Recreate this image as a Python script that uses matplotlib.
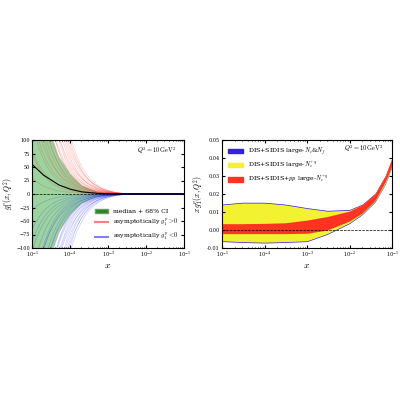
import numpy as np
import matplotlib
matplotlib.use("Agg")
import matplotlib.pyplot as plt
from matplotlib.patches import Patch
from matplotlib.lines import Line2D

plt.rcParams['mathtext.fontset'] = 'cm'
plt.rcParams['font.family'] = 'DejaVu Serif'

# Left panel: replica amplitudes (value at x=1e-4) and exponents
red_amp = [3, 6, 9, 12, 15, 18, 21, 24, 27, 30, 34, 38, 42, 46, 50, 55, 60, 66, 72, 80, 88, 96, 105, 115]
red_exp = [1.0, 1.1, 0.95, 1.05, 1.0, 1.1, 0.9, 1.0, 1.05, 0.95, 1.0, 1.1, 1.0, 0.95, 1.05, 1.0, 0.9, 1.0, 1.05, 1.0, 0.95, 1.0, 1.05, 1.0]
blue_amp = [-a for a in red_amp]
blue_exp = red_exp[::-1]
med_x = [1e-5, 2e-5, 5e-5, 1e-4, 2e-4, 5e-4, 1e-3, 3e-3, 1e-2, 1e-1]
med_y = [55, 35, 17, 9, 4, 1.2, 0.4, 0.05, 0, 0]
ci_up = [300, 150, 70, 38, 17, 5, 1.5, 0.3, 0.05, 0]
ci_lo = [-300, -150, -70, -38, -17, -5, -1.5, -0.3, -0.05, 0]

# Right panel bands
bx = [1e-5, 3e-5, 1e-4, 3e-4, 1e-3, 3e-3, 1e-2, 2e-2, 4e-2, 7e-2, 1e-1]
y_up = [0.014, 0.015, 0.015, 0.014, 0.012, 0.0105, 0.011, 0.014, 0.020, 0.030, 0.0395]
y_lo = [-0.006, -0.0065, -0.0068, -0.0065, -0.006, -0.002, 0.004, 0.009, 0.016, 0.026, 0.0355]
r_up = [0.0035, 0.0035, 0.0037, 0.004, 0.0055, 0.0075, 0.0105, 0.014, 0.020, 0.030, 0.040]
r_lo = [-0.002, -0.002, -0.002, -0.002, -0.0018, 0.0, 0.005, 0.0095, 0.0165, 0.027, 0.036]

fig = plt.figure(figsize=(4, 4), dpi=100)
ax1 = fig.add_axes([0.08, 0.38, 0.38, 0.27])
ax2 = fig.add_axes([0.555, 0.38, 0.425, 0.27])

x = np.logspace(-5, -1, 300)
lx = np.log10(x)
for a, p in zip(red_amp, red_exp):
    ax1.plot(x, a * (1e-4 / x) ** p * np.exp(-x / 2e-3), color='red', alpha=0.2, lw=0.5)
for a, p in zip(blue_amp, blue_exp):
    ax1.plot(x, a * (1e-4 / x) ** p * np.exp(-x / 2e-3), color='blue', alpha=0.2, lw=0.5)
ax1.fill_between(x, np.interp(lx, np.log10(med_x), ci_lo),
                 np.interp(lx, np.log10(med_x), ci_up), color='#4caf50', alpha=0.55, lw=0)
ax1.plot(x, np.interp(lx, np.log10(med_x), med_y), color='black', lw=0.8)
ax1.axhline(0, color='black', ls='--', lw=0.5)
ax1.set_xscale('log'); ax1.set_xlim(1e-5, 1e-1); ax1.set_ylim(-100, 100)
ax1.set_yticks(range(-100, 101, 25))
ax1.set_xlabel('$x$', fontsize=7, labelpad=1)
ax1.set_ylabel('$g_1^p(x,Q^2)$', fontsize=5.5, labelpad=0)
ax1.text(0.95, 0.88, r'$Q^2=10\,\mathrm{GeV}^2$', transform=ax1.transAxes, ha='right', fontsize=4.5)
h = [Patch(facecolor='#2e7d32', edgecolor='#4caf50'), Line2D([], [], color='red', alpha=0.5),
     Line2D([], [], color='blue', alpha=0.5)]
ax1.legend(h, ['median + 68% CI', r'asymptotically $g_1^p>0$', r'asymptotically $g_1^p<0$'],
           loc='lower right', fontsize=4.5, frameon=False)

bxx = np.log10(bx)
ax2.fill_between(x, np.interp(lx, bxx, y_lo) - 0.0004, np.interp(lx, bxx, y_up) + 0.0004, color='#3322dd', lw=0)
ax2.fill_between(x, np.interp(lx, bxx, y_lo), np.interp(lx, bxx, y_up), color='#f2f230', lw=0)
ax2.fill_between(x, np.interp(lx, bxx, r_lo), np.interp(lx, bxx, r_up), color='#ff3322', lw=0)
ax2.axhline(0, color='black', ls='--', lw=0.5)
ax2.set_xscale('log'); ax2.set_xlim(1e-5, 1e-1); ax2.set_ylim(-0.01, 0.05)
ax2.set_yticks(np.arange(-0.01, 0.051, 0.01))
ax2.set_yticklabels(['-0.01', '0.00', '0.01', '0.02', '0.03', '0.04', '0.05'])
ax2.set_xlabel('$x$', fontsize=7, labelpad=1)
ax2.set_ylabel('$x\\,g_1^p(x,Q^2)$', fontsize=5.5, labelpad=1)
ax2.text(0.95, 0.9, r'$Q^2=10\,\mathrm{GeV}^2$', transform=ax2.transAxes, ha='right', fontsize=4.5)
h2 = [Patch(color='#3322dd'), Patch(color='#f2f230'), Patch(color='#ff3322')]
ax2.legend(h2, [r'DIS+SIDIS large-$N_c$&$N_f$', r'DIS+SIDIS large-$N_c^{+q}$',
                r'DIS+SIDIS+$pp$ large-$N_c^{+q}$'], loc='upper left', fontsize=4.5, frameon=False,
           handlelength=2.5)

for ax in (ax1, ax2):
    ax.tick_params(direction='in', which='both', top=True, right=True, labelsize=3.5, length=2, pad=1.5)
    ax.tick_params(which='minor', length=1)

fig.savefig('out.png', dpi=100)
